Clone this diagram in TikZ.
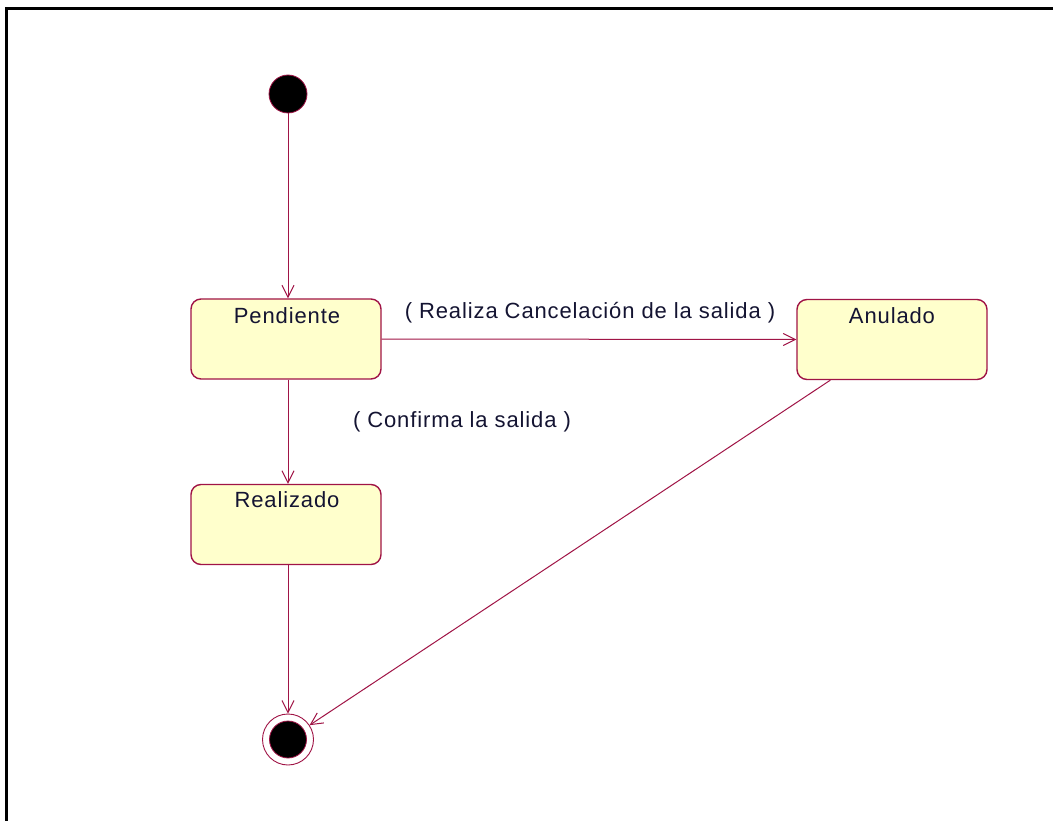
\documentclass[tikz,border=0pt]{standalone}
\usepackage{fontspec}
\setmainfont{Liberation Sans}
\newfontfamily\lblfont[LetterSpace=4]{Liberation Sans}
\usetikzlibrary{arrows.meta,calc}
\definecolor{umlred}{RGB}{160,20,70}
\definecolor{umlfill}{RGB}{255,255,204}
\definecolor{umltext}{RGB}{20,20,50}
\tikzset{
  statebox/.style={draw=umlred, fill=umlfill, line width=1.4pt, rounded corners=10pt,
    minimum width=190pt, minimum height=80pt, inner sep=0pt},
  boxtext/.style={font=\lblfont\fontsize{22}{26}\selectfont, inner sep=0pt, anchor=north, text=umltext},
  trans/.style={draw=umlred, line width=1pt, -{Straight Barb[length=12pt,width=12pt,line width=1pt]}},
  translabel/.style={font=\lblfont\fontsize{22}{26}\selectfont, inner sep=0pt, text=umltext},
}
\begin{document}
\begin{tikzpicture}[x=1pt,y=-1pt]
\useasboundingbox (0,0) rectangle (1053,821);
\fill[white] (0,0) rectangle (1053,821);
% frame
\draw[line width=3pt] (6.5,821) -- (6.5,8.5) -- (1053,8.5);
% initial state
\node[circle, fill=black, draw=umlred, line width=0.8pt, minimum size=38pt, inner sep=0pt] (init) at (288,94) {};
% states
\node[statebox] (pend) at (286,339) {};
\node[boxtext] (pendt) at (287,307) {Pendiente};
\node[statebox] (anul) at (892,339.5) {};
\node[boxtext] (anult) at (892,307) {Anulado};
\node[statebox] (real) at (286,524.5) {};
\node[boxtext] (realt) at (287,491) {Realizado};
% final state
\node[circle, draw=umlred, fill=white, line width=0.9pt, minimum size=51pt, inner sep=0pt] (fin) at (288,739.5) {};
\node[circle, fill=black, draw=umlred, line width=0.8pt, minimum size=37pt, inner sep=0pt] (fininner) at (288,739.5) {};
% transitions
\draw[trans] (init.south) -- (init.south |- pend.north);
\draw[trans] (pend.south -| init.south) -- (real.north -| init.south);
\draw[trans] (pend.east) -- (anul.west);
\draw[trans] (real.south -| fin.north) -- (fin.north);
\coordinate (anstart) at ($(anul.south west)+(34,0)$);
\draw[trans] (anstart) -- (fin);
% labels
\node[translabel] (l1) at (590,313) {( Realiza Cancelación de la salida )};
\node[translabel] (l2) at (462,422) {( Confirma la salida )};
\end{tikzpicture}
\end{document}
